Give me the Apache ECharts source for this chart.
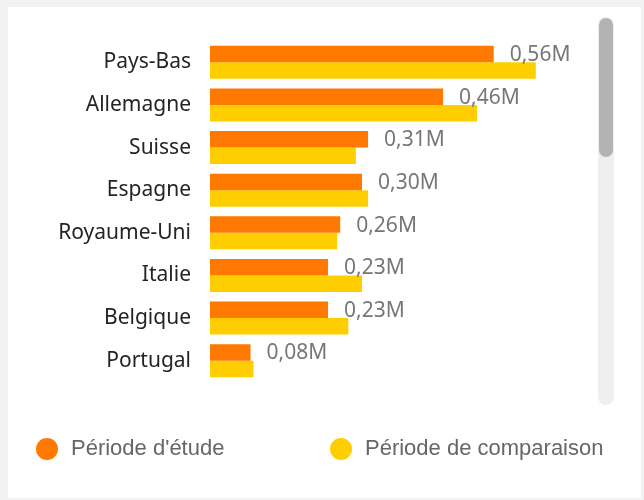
<!DOCTYPE html>
<html>
<head>
<meta charset="utf-8">
<script src="https://cdn.jsdelivr.net/npm/echarts@6/dist/echarts.min.js"></script>
<style>
    body { margin: 0; background: #f2f2f2; }
    #card { position: absolute; left: 8px; top: 7px; width: 633px; height: 491px; background: #fff; }
    #chart { position: absolute; left: 0; top: 0; width: 644px; height: 500px; }
</style>
</head>
<body>
<div id="card"></div>
<div id="chart"></div>
<script>
// pays, période d'étude vs période de comparaison (en millions)
const pays = ['Pays-Bas', 'Allemagne', 'Suisse', 'Espagne', 'Royaume-Uni', 'Italie', 'Belgique', 'Portugal']
const etude = [0.56, 0.46, 0.312, 0.30, 0.257, 0.233, 0.233, 0.08]
const comparaison = [0.643, 0.527, 0.288, 0.312, 0.251, 0.300, 0.273, 0.086]

let chart = echarts.init(document.getElementById('chart'))
let legendText = { color: '#666', fontFamily: 'Liberation Sans', fontSize: 22, padding: [0, 0, 0, 8] }
let option = {
    animation: false,
    grid: { left: 210, top: 41, right: 54, bottom: 118 },
    xAxis: {
        type: 'value',
        min: 0,
        max: 0.75,
        show: false
    },
    yAxis: {
        type: 'category',
        data: pays,
        inverse: true,
        axisLine: { show: false },
        axisTick: { show: false },
        axisLabel: {
            margin: 19,
            color: '#252423',
            fontFamily: 'Noto Sans',
            fontSize: 21
        }
    },
    legend: [
        {
            data: ['Période d\'étude'],
            left: 36,
            top: 438,
            padding: 0,
            icon: 'circle',
            itemWidth: 22,
            itemHeight: 22,
            textStyle: legendText
        },
        {
            data: ['Période de comparaison'],
            left: 330,
            top: 438,
            padding: 0,
            icon: 'circle',
            itemWidth: 22,
            itemHeight: 22,
            textStyle: legendText
        }
    ],
    graphic: [
        {
            type: 'rect',
            shape: { x: 598, y: 17, width: 16, height: 388, r: 8 },
            style: { fill: '#efefef' }
        },
        {
            type: 'rect',
            shape: { x: 599, y: 18, width: 14, height: 139, r: 7 },
            style: { fill: '#b3b3b3' }
        }
    ],
    series: [
        {
            name: 'Période d\'étude',
            type: 'bar',
            data: etude,
            barWidth: 16.5,
            barGap: '0%',
            itemStyle: { color: '#ff7900' },
            label: {
                show: true,
                position: 'right',
                distance: 16,
                offset: [0, 1],
                color: '#777',
                fontFamily: 'Noto Sans',
                fontSize: 21,
                formatter: function(p) {
                    return p.value.toFixed(2).replace('.', ',') + 'M'
                }
            },
            z: 3
        },
        {
            name: 'Période de comparaison',
            type: 'bar',
            data: comparaison,
            barWidth: 16.5,
            barGap: '0%',
            itemStyle: { color: '#ffce00' },
            z: 2
        }
    ]
}
chart.setOption(option)
</script>
</body>
</html>
